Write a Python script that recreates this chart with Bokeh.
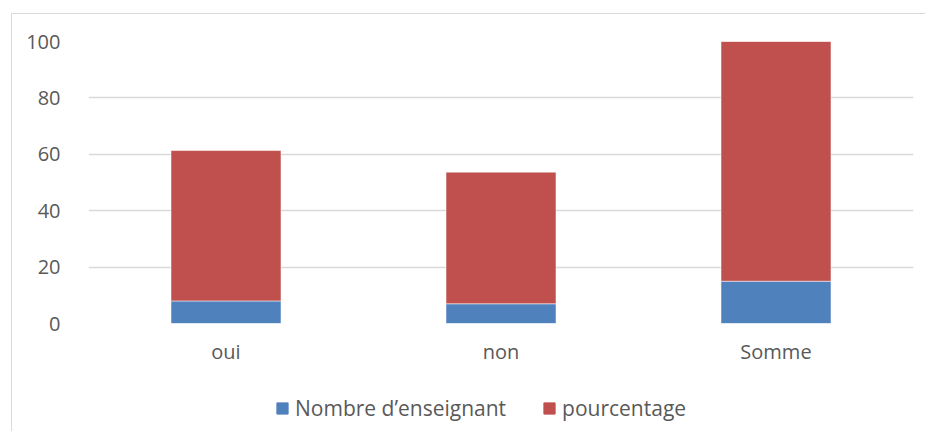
from bokeh.plotting import figure
from bokeh.layouts import column
from bokeh.models import Range1d, FactorRange, Legend, LegendItem, FixedTicker
from bokeh.embed import file_html
from bokeh.resources import INLINE

categories = ["oui", "non", "Somme"]
nombre_enseignant = [8, 7, 15]
pourcentage = [53.33, 46.67, 100]
y_ticks = [0, 20, 40, 60, 80, 100]
series_labels = ["Nombre d\u2019enseignant", "pourcentage"]
series_colors = ["#4f81bd", "#c0504d"]

FONT = "Open Sans"
GREY_TXT = "#595959"

source = dict(cat=categories, n=nombre_enseignant, pct=pourcentage)

p = figure(x_range=FactorRange(*categories), y_range=Range1d(0, 100),
           width=913, height=357, output_backend="svg", toolbar_location=None,
           min_border_left=76, min_border_right=12, min_border_top=27,
           min_border_bottom=48)
p.outline_line_color = None

rs = p.vbar_stack(["n", "pct"], x="cat", width=0.4, source=source,
                  color=series_colors, line_color="white", line_alpha=0.5,
                  line_width=1)

p.yaxis.ticker = FixedTicker(ticks=y_ticks)
for ax in (p.xaxis[0], p.yaxis[0]):
    ax.axis_line_color = None
    ax.major_tick_line_color = None
    ax.minor_tick_line_color = None
    ax.major_label_text_font = FONT
    ax.major_label_text_font_size = "20px"
    ax.major_label_text_color = GREY_TXT
p.yaxis.major_label_standoff = 22
p.xaxis.major_label_standoff = 8

p.xgrid.grid_line_color = None
p.ygrid.ticker = FixedTicker(ticks=y_ticks)
p.ygrid.grid_line_color = "#d9d9d9"
p.ygrid.grid_line_width = 1.5

# legend strip below the chart (bars here sit outside the visible range)
p2 = figure(x_range=FactorRange(*categories), y_range=Range1d(1000, 1001),
            width=913, height=60, output_backend="svg", toolbar_location=None,
            x_axis_location=None, y_axis_location=None,
            min_border_left=0, min_border_right=0, min_border_top=0,
            min_border_bottom=0)
p2.outline_line_color = None
p2.grid.grid_line_color = None
rs2 = p2.vbar_stack(["n", "pct"], x="cat", width=0.4, source=source,
                    color=series_colors)

legend = Legend(items=[LegendItem(label=series_labels[0], renderers=[rs2[0]]),
                       LegendItem(label=series_labels[1], renderers=[rs2[1]])],
                orientation="horizontal", location=(187, 9),
                label_text_font=FONT, label_text_font_size="21px",
                label_text_color=GREY_TXT, glyph_width=14, glyph_height=14,
                label_standoff=6, spacing=36, border_line_color=None,
                background_fill_alpha=0, margin=0, padding=4)
p2.add_layout(legend, "center")

layout = column(p, p2, margin=(13, 0, 0, 11),
                styles={"border-left": "1px solid #d9d9d9",
                        "border-top": "1px solid #d9d9d9"})

open("out.html", "w").write(file_html(layout, INLINE))
